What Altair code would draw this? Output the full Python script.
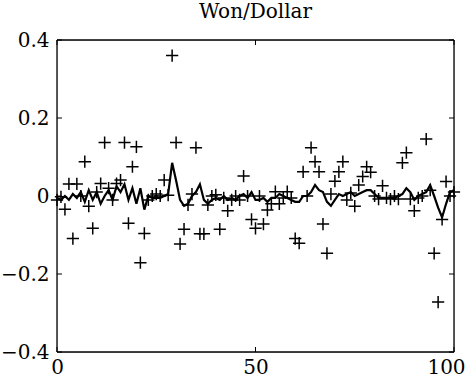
import altair as alt
import pandas as pd

# Observed values (plus markers) at t = 0..100
obs = [-0.010, -0.002, -0.034, 0.031, -0.109, 0.031, 0.000, 0.088, -0.026, -0.083,
       0.010, 0.032, 0.137, 0.020, -0.010, 0.032, 0.041, 0.137, -0.070, 0.075,
       0.126, -0.171, -0.096, -0.010, 0.000, 0.005, 0.000, 0.041, 0.002, 0.360,
       0.137, -0.123, -0.085, -0.023, 0.005, 0.124, -0.097, -0.097, -0.023, 0.000,
       0.003, -0.085, -0.005, -0.038, -0.010, 0.000, -0.010, 0.051, 0.000, -0.060,
       -0.083, 0.000, -0.072, -0.036, -0.020, 0.011, -0.020, -0.005, 0.011, -0.005,
       -0.109, -0.121, 0.062, 0.000, 0.124, 0.088, 0.062, -0.072, -0.147, 0.005,
       0.038, 0.062, 0.088, -0.010, 0.008, -0.026, 0.028, 0.050, 0.075, 0.061,
       0.000, -0.008, 0.026, -0.005, -0.008, 0.000, -0.008, 0.085, 0.111, -0.008,
       -0.038, -0.005, 0.000, 0.146, 0.015, -0.147, -0.272, -0.060, 0.037, 0.000,
       0.010]

# Fitted / predicted series (solid line) at t = 0..100
fit = [-0.005, -0.010, 0.000, -0.010, 0.005, -0.005, 0.010, -0.015, 0.015, -0.010,
       0.010, -0.020, 0.000, 0.015, -0.010, 0.025, 0.010, 0.030, -0.010, 0.020,
       -0.020, 0.020, -0.035, 0.000, -0.005, -0.005, -0.005, 0.000, 0.005, 0.085,
       0.040, -0.010, -0.025, -0.020, 0.000, 0.010, 0.030, -0.010, -0.020, -0.010,
       -0.005, -0.010, 0.000, -0.010, -0.005, -0.010, 0.000, 0.005, -0.005, 0.010,
       -0.010, -0.010, -0.005, -0.015, -0.005, -0.005, 0.005, 0.000, -0.005, -0.010,
       -0.015, -0.015, 0.000, 0.000, 0.010, 0.028, 0.015, 0.010, -0.015, -0.025,
       -0.010, 0.005, 0.000, 0.005, 0.010, 0.000, 0.005, 0.010, 0.015, 0.015,
       0.005, -0.005, -0.005, -0.005, -0.005, -0.005, 0.000, 0.005, 0.020, 0.010,
       -0.010, 0.000, 0.005, 0.010, 0.028, 0.000, -0.030, -0.055, -0.020, 0.010,
       0.015]

x_ticks = [0, 50, 100]
y_ticks = [-0.4, -0.2, 0, 0.2, 0.4]

t = list(range(len(obs)))
df = pd.DataFrame({"t": t, "obs": obs, "fit": fit})

FONT = "DejaVu Serif"
W, H = 397, 312
xs = alt.Scale(domain=[0, 100], nice=False, zero=False)
ys = alt.Scale(domain=[-0.4, 0.4], nice=False, zero=False)

xax = alt.Axis(values=x_ticks, labelFont=FONT, labelFontSize=20, labelColor="black",
               ticks=False, domain=False, grid=False, labelPadding=5, title=None,
               labelFlush=False,
               labelOffset={"condition": {"test": "datum.value == 100", "value": -8}, "value": 0})
yax = alt.Axis(values=y_ticks, labelFont=FONT, labelFontSize=20, labelColor="black",
               ticks=False, domain=False, grid=False, labelPadding=8, title=None,
               format="~g")

plus = "M-1,0L1,0M0,-1L0,1"

points = alt.Chart(df).mark_point(shape=plus, size=150, filled=False, color="black",
                                  strokeWidth=1.5, opacity=1).encode(
    x=alt.X("t:Q", scale=xs, axis=xax),
    y=alt.Y("obs:Q", scale=ys, axis=yax),
)

line = alt.Chart(df).mark_line(color="black", strokeWidth=2.2).encode(
    x=alt.X("t:Q", scale=xs),
    y=alt.Y("fit:Q", scale=ys),
)

# inward tick marks
xt = pd.DataFrame({"v": x_ticks})
yt = pd.DataFrame({"v": y_ticks})
xticks_b = alt.Chart(xt).mark_rule(color="black", strokeWidth=1).encode(
    x=alt.X("v:Q", scale=xs), y=alt.value(H), y2=alt.value(H - 5))
xticks_t = alt.Chart(xt).mark_rule(color="black", strokeWidth=1).encode(
    x=alt.X("v:Q", scale=xs), y=alt.value(0), y2=alt.value(5))
yticks_l = alt.Chart(yt).mark_rule(color="black", strokeWidth=1).encode(
    y=alt.Y("v:Q", scale=ys), x=alt.value(0), x2=alt.value(5))
yticks_r = alt.Chart(yt).mark_rule(color="black", strokeWidth=1).encode(
    y=alt.Y("v:Q", scale=ys), x=alt.value(W), x2=alt.value(W - 5))

# frame
fr = pd.DataFrame({"k": [0]})
frame_l = alt.Chart(fr).mark_rule(color="black", strokeWidth=1.3).encode(
    x=alt.value(0), y=alt.value(0), y2=alt.value(H))
frame_r = alt.Chart(fr).mark_rule(color="black", strokeWidth=1.3).encode(
    x=alt.value(W), y=alt.value(0), y2=alt.value(H))
frame_t = alt.Chart(fr).mark_rule(color="black", strokeWidth=1.3).encode(
    y=alt.value(0), x=alt.value(0), x2=alt.value(W))
frame_b = alt.Chart(fr).mark_rule(color="black", strokeWidth=1.3).encode(
    y=alt.value(H), x=alt.value(0), x2=alt.value(W))

chart = alt.layer(line, points, xticks_b, xticks_t, yticks_l, yticks_r,
                  frame_l, frame_r, frame_t, frame_b).properties(
    width=W, height=H,
    title=alt.TitleParams("Won/Dollar", font=FONT, fontSize=20, fontWeight="normal",
                          color="black", offset=8),
    autosize=alt.AutoSizeParams(type="none"),
    padding={"left": 57, "top": 40, "right": 13, "bottom": 36},
).configure_view(strokeWidth=0).configure(background="white")

chart.save("out.html", embed_options={"renderer": "svg", "actions": False})
